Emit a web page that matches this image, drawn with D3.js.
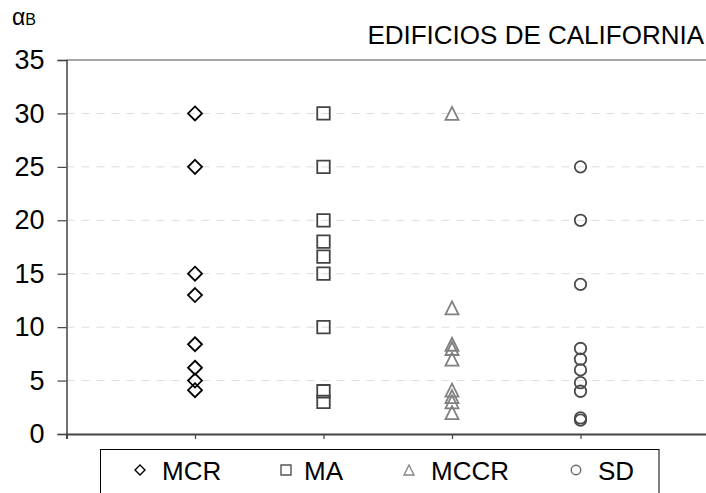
<!DOCTYPE html>
<html><head><meta charset="utf-8">
<script src="https://cdn.jsdelivr.net/npm/d3@7"></script>
<style>
html,body{margin:0;padding:0;background:#fff;overflow:hidden}
text{font-family:"Liberation Sans",Arial,sans-serif}
</style></head>
<body><svg id="c" width="706" height="493"></svg>
<script>
const categories = ["MCR","MA","MCCR","SD"];
const mcr  = [30, 25, 15, 13, 8.4, 6.2, 5, 4.1];
const ma   = [30, 25, 20, 18, 16.6, 15, 10, 4, 3];
const mccr = [30, 11.8, 8.4, 8.0, 7.0, 4.1, 3.5, 3.0, 2.0];
const sd   = [25, 20, 14, 8, 7, 6, 4.8, 4, 1.5, 1.3];
const yTicks = [0,5,10,15,20,25,30,35];
const title = "EDIFICIOS DE CALIFORNIA";

const series = [
  {name:"MCR", values:mcr, shape:"diamond", color:"#000", lcolor:"#000"},
  {name:"MA", values:ma, shape:"square", color:"#444", lcolor:"#555"},
  {name:"MCCR", values:mccr, shape:"triangle", color:"#808080", lcolor:"#888"},
  {name:"SD", values:sd, shape:"circle", color:"#4a4a4a", lcolor:"#666"}
];

const svg = d3.select("#c");
const x = d3.scaleLinear().domain([0,5]).range([66.5, 709]);
const y = d3.scaleLinear().domain([0,35]).range([434, 60]);

// grid
svg.append("g").selectAll("line").data(yTicks.filter(d=>d>0 && d<35)).join("line")
  .attr("x1", x(0)).attr("x2", 706).attr("y1", d=>y(d)).attr("y2", d=>y(d))
  .attr("stroke","#dcdcdc").attr("stroke-width",1).attr("stroke-dasharray","8,7");

// top border
svg.append("line").attr("x1",x(0)).attr("x2",706).attr("y1",y(35)).attr("y2",y(35))
  .attr("stroke","#888").attr("stroke-width",1.5);

// y axis
const ya = svg.append("g").attr("transform",`translate(${x(0)},0)`)
  .call(d3.axisLeft(y).tickValues(yTicks).tickSize(9).tickPadding(13));
ya.select(".domain").attr("stroke","#444").attr("stroke-width",1.5);
ya.selectAll(".tick line").attr("stroke","#444").attr("stroke-width",1.2);
ya.selectAll(".tick text").attr("font-size","27px").attr("fill","#000")
  .attr("font-family","'Liberation Sans',Arial,sans-serif");

// x axis
const xa = svg.append("g").attr("transform",`translate(0,${y(0)})`)
  .call(d3.axisBottom(x).tickValues([1,2,3,4]).tickSize(5).tickFormat(""));
xa.select(".domain").attr("stroke","#444").attr("stroke-width",2);
xa.selectAll(".tick line").attr("stroke","#444").attr("stroke-width",1.2);

function shapePath(shape, s){
  const h = s/2;
  if(shape==="diamond") return `M0,${-h}L${h},0L0,${h}L${-h},0Z`;
  if(shape==="square") return `M${-h},${-h}H${h}V${h}H${-h}Z`;
  if(shape==="triangle") return `M0,${-h}L${h},${h}L${-h},${h}Z`;
  const r = h; return `M${r},0A${r},${r} 0 1,1 ${-r},0A${r},${r} 0 1,1 ${r},0Z`;
}
const sizes = {diamond:14, square:12.5, triangle:13, circle:11.5};

series.forEach((s,i)=>{
  svg.append("g").selectAll("path").data(s.values).join("path")
    .attr("d", shapePath(s.shape, sizes[s.shape]))
    .attr("transform", d=>`translate(${x(i+1)},${y(d)})`)
    .attr("fill","none").attr("stroke", s.color).attr("stroke-width",1.8);
});

// y label
const yl = svg.append("text").attr("x",12).attr("y",25).attr("fill","#000");
yl.append("tspan").attr("font-size","23px").text("α");
yl.append("tspan").attr("font-size","16px").text("B");

// title
svg.append("text").attr("x",704).attr("y",44).attr("text-anchor","end")
  .attr("font-size","26px").attr("fill","#000").text(title);

// legend
svg.append("rect").attr("x",100.5).attr("y",449.5).attr("width",558.5).attr("height",60)
  .attr("fill","none").attr("stroke","#000").attr("stroke-width",1);
const legX = [140, 286, 409, 576];
const legT = [162, 304, 431, 598];
series.forEach((s,i)=>{
  svg.append("path").attr("d", shapePath(s.shape, s.shape==="circle"?9.5:10))
    .attr("transform",`translate(${legX[i]},470)`)
    .attr("fill","none").attr("stroke", s.lcolor).attr("stroke-width",1.4);
  svg.append("text").attr("x",legT[i]).attr("y",480).attr("font-size","26px")
    .attr("fill","#000").text(categories[i]);
});
</script></body></html>
